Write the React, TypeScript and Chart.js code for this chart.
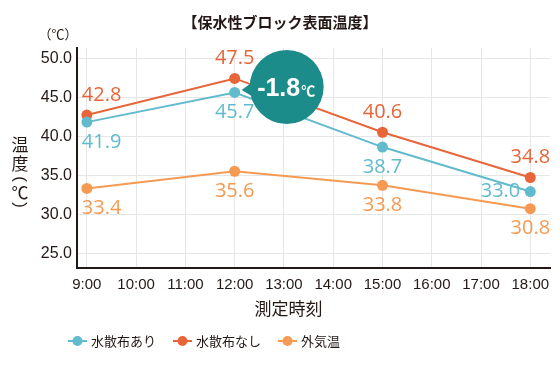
import React, { useEffect, useRef } from "react";
import { Chart, registerables } from "chart.js";

Chart.register(...registerables);

// ---- data ----
const hours = [9, 12, 15, 18];
const withWater = [41.9, 45.7, 38.7, 33.0];
const noWater = [42.8, 47.5, 40.6, 34.8];
const outsideAir = [33.4, 35.6, 33.8, 30.8];
const seriesNames = ["水散布あり", "水散布なし", "外気温"];
const xTickHours = [9, 10, 11, 12, 13, 14, 15, 16, 17, 18];
const yTickValues = [25, 30, 35, 40, 45, 50];
const titleText = "【保水性ブロック表面温度】";
const unitText = "（℃）";
const xTitleText = "測定時刻";
const diffIndex = 1; // 12:00

// ---- styles ----
const colors = ["#61bbcd", "#e8653a", "#f59a52"];
const labelPlace = [
  ["below", "below", "below", "left"],
  ["above", "above", "above", "above"],
  ["below", "below", "below", "below"],
];
const DARK = "#231815";
const LATIN = "'Liberation Sans', 'Noto Sans CJK JP', sans-serif";
const JP = "'Noto Sans CJK JP', 'Liberation Sans', sans-serif";

const seriesData = [withWater, noWater, outsideAir];

const overlayPlugin = {
  id: "overlay",
  afterDatasetsDraw(chart: any) {
    const ctx = chart.ctx;
    // data labels
    ctx.save();
    chart.data.datasets.forEach((ds: any, di: number) => {
      const meta = chart.getDatasetMeta(di);
      meta.data.forEach((pt: any, i: number) => {
        const v = seriesData[di][i];
        const place = labelPlace[di][i];
        ctx.fillStyle = colors[di];
        ctx.font = `400 20px 'Open Sans', 'DejaVu Sans', ${LATIN}`;
        ctx.textBaseline = "middle";
        let x = pt.x;
        let y = pt.y;
        ctx.textAlign = "center";
        if (place === "above") y -= 20;
        else if (place === "below") y += 20;
        else if (place === "left") {
          ctx.textAlign = "right";
          x -= 10;
        }
        if (i === 0 && place !== "left") {
          ctx.textAlign = "left";
          x -= 5;
        }
        ctx.fillText(v.toFixed(1), x, y);
      });
    });
    ctx.restore();

    // difference bubble
    const pA = chart.getDatasetMeta(0).data[diffIndex];
    const pB = chart.getDatasetMeta(1).data[diffIndex];
    const midY = (pA.y + pB.y) / 2;
    const cx = pA.x + 52;
    const cy = midY + 1.5;
    const r = 37;
    ctx.save();
    ctx.fillStyle = "#1b8c89";
    ctx.beginPath();
    ctx.arc(cx, cy, r, 0, Math.PI * 2);
    ctx.fill();
    ctx.beginPath();
    ctx.moveTo(cx - 30, cy - 8);
    ctx.lineTo(cx - 45, cy + 3);
    ctx.lineTo(cx - 30, cy + 12);
    ctx.closePath();
    ctx.fill();
    const diff = (withWater[diffIndex] - noWater[diffIndex]).toFixed(1);
    ctx.fillStyle = "#ffffff";
    ctx.textBaseline = "alphabetic";
    ctx.textAlign = "left";
    ctx.font = `bold 25px ${LATIN}`;
    const w1 = ctx.measureText(diff).width;
    ctx.font = `bold 14px ${JP}`;
    const w2 = ctx.measureText("℃").width;
    const startX = cx - (w1 + w2) / 2 - 1;
    ctx.font = `bold 25px ${LATIN}`;
    ctx.fillText(diff, startX, cy + 9);
    ctx.font = `bold 14px ${JP}`;
    ctx.fillText("℃", startX + w1 + 1, cy + 9);
    ctx.restore();
  },
  afterDraw(chart: any) {
    const ctx = chart.ctx;
    ctx.save();
    ctx.fillStyle = DARK;
    ctx.textBaseline = "middle";
    // title
    ctx.textAlign = "center";
    ctx.font = `bold 15px ${JP}`;
    ctx.fillText(titleText, 280, 22);
    // unit
    ctx.font = `13px ${JP}`;
    ctx.fillText(unitText, 58, 34);
    // x title
    ctx.font = `17px ${JP}`;
    const xa = chart.chartArea;
    ctx.fillText(xTitleText, (xa.left + xa.right) / 2 - 25, 309);
    // y title vertical
    const vx = 20;
    ctx.font = `17px ${JP}`;
    ctx.fillText("温", vx, 145);
    ctx.fillText("度", vx, 164);
    ctx.fillText("℃", vx, 193);
    ctx.font = `17px ${LATIN}`;
    [
      [179, "("],
      [205, ")"],
    ].forEach(([yy, ch]: any) => {
      ctx.save();
      ctx.translate(vx, yy);
      ctx.rotate(Math.PI / 2);
      ctx.fillText(ch, 0, 0);
      ctx.restore();
    });
    // legend
    let lx = 68;
    const ly = 341;
    seriesNames.forEach((name, i) => {
      ctx.strokeStyle = colors[i];
      ctx.lineWidth = 2;
      ctx.beginPath();
      ctx.moveTo(lx, ly);
      ctx.lineTo(lx + 19, ly);
      ctx.stroke();
      ctx.fillStyle = colors[i];
      ctx.beginPath();
      ctx.arc(lx + 9.5, ly, 5, 0, Math.PI * 2);
      ctx.fill();
      ctx.fillStyle = DARK;
      ctx.textAlign = "left";
      ctx.font = `13px ${JP}`;
      ctx.fillText(name, lx + 23, ly);
      lx = lx + 23 + ctx.measureText(name).width + 17;
    });
    ctx.restore();
  },
};

export default function App() {
  const ref = useRef<HTMLCanvasElement | null>(null);
  useEffect(() => {
    if (!ref.current) return;
    const chart = new Chart(ref.current, {
      type: "line",
      data: {
        datasets: seriesData.map((arr, i) => ({
          label: seriesNames[i],
          data: arr.map((v, j) => ({ x: hours[j], y: v })),
          borderColor: colors[i],
          backgroundColor: colors[i],
          borderWidth: 2,
          pointRadius: 5.5,
          pointBorderWidth: 0,
          pointBackgroundColor: colors[i],
          tension: 0,
          clip: false as any,
        })),
      },
      options: {
        responsive: false,
        animation: false,
        devicePixelRatio: 1,
        layout: { padding: { left: 0, right: 10, top: 48, bottom: 74 } },
        plugins: {
          legend: { display: false },
          tooltip: { enabled: false },
          title: { display: false },
        },
        scales: {
          x: {
            type: "linear",
            min: 8.8,
            max: 18.4,
            afterBuildTicks: (s: any) => {
              s.ticks = xTickHours.map((v) => ({ value: v }));
            },
            afterFit: (s: any) => {
              s.height = 26;
            },
            ticks: {
              callback: (v: any) => `${v}:00`,
              color: DARK,
              font: { size: 15, family: LATIN },
              padding: 8,
              maxRotation: 0,
              autoSkip: false,
            },
            grid: { color: "#e6e6e6", lineWidth: 1, drawTicks: false },
            border: { color: DARK, width: 2 },
          },
          y: {
            min: 23.2,
            max: 51.4,
            afterBuildTicks: (s: any) => {
              s.ticks = yTickValues.map((v) => ({ value: v }));
            },
            afterFit: (s: any) => {
              s.width = 77;
            },
            ticks: {
              callback: (v: any) => Number(v).toFixed(1),
              color: DARK,
              font: { size: 16, family: LATIN },
              padding: 5,
            },
            grid: { color: "#e6e6e6", lineWidth: 1, drawTicks: false },
            border: { color: DARK, width: 2 },
          },
        },
      },
      plugins: [overlayPlugin],
    });
    return () => chart.destroy();
  }, []);
  return (
    <div
      style={{
        position: "fixed",
        left: 0,
        top: 0,
        width: 560,
        height: 368,
        background: "#fff",
      }}
    >
      <canvas ref={ref} width={560} height={368} />
    </div>
  );
}
